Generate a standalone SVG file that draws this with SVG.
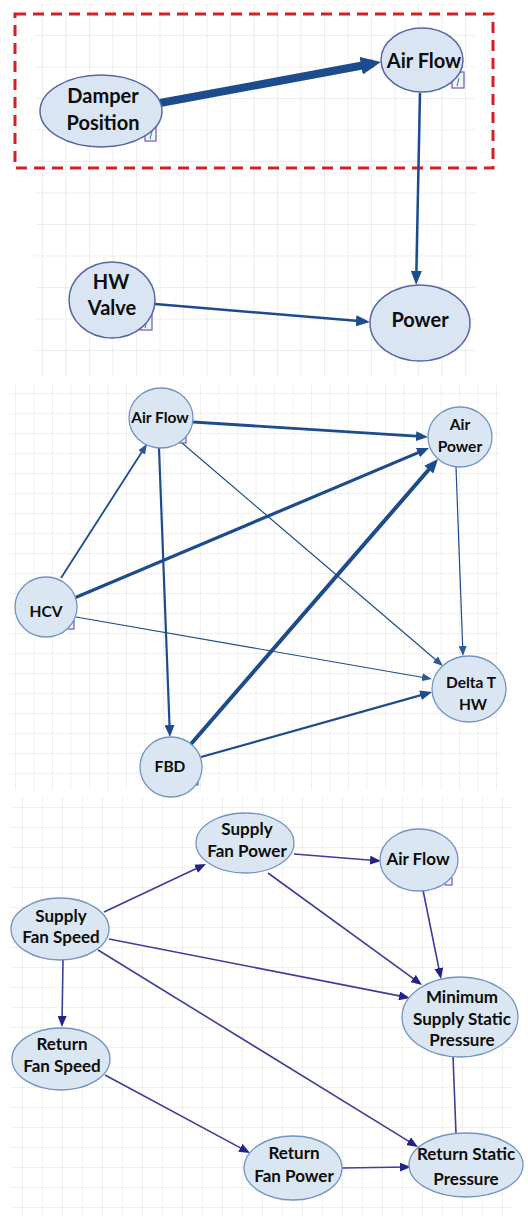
<svg xmlns="http://www.w3.org/2000/svg" width="528" height="1220" viewBox="0 0 528 1220">
<style>
.node{fill:#dbe6f3;stroke:#7393c2;stroke-width:1.3}
.nodeT{fill:#d9e5f3;stroke:#5866a8;stroke-width:1.5}
.t{font-family:Lato,"Open Sans","Liberation Sans",sans-serif;font-weight:bold;fill:#0d0d0d;text-anchor:middle}
.t1{font-size:20px}
.t2{font-size:15.5px}
.t3{font-size:17px}
.e1{fill:none;stroke:#1d4c8c}
.e3{fill:none;stroke:#3d3d9e;stroke-width:1.6}
.ico{fill:#f4f4fb;stroke:#6a58c0;stroke-width:1.2}
.tick{stroke:#3a9a8a;stroke-width:1.2}
</style>
<defs>
<pattern id="gTop" x="42" y="3.5" width="23.5" height="31.5" patternUnits="userSpaceOnUse">
<path d="M0 0V31.5M0 0H23.5" stroke="#dedede" stroke-width="1" fill="none"/>
</pattern>
<pattern id="gMid" x="15" y="393" width="18.5" height="20" patternUnits="userSpaceOnUse">
<path d="M0 0V20M0 0H18.5" stroke="#e2e2e2" stroke-width="1" fill="none"/>
</pattern>
<pattern id="gBot" x="2" y="807" width="20" height="20" patternUnits="userSpaceOnUse">
<path d="M0 0V20M0 0H20" stroke="#e2e2e2" stroke-width="1" fill="none"/>
</pattern>
<marker id="mTopBig" markerUnits="userSpaceOnUse" markerWidth="20" markerHeight="18" refX="12" refY="9" orient="auto">
<path d="M0 0L20 9L0 18z" fill="#1d4c8c"/>
</marker>
<marker id="mTop" markerUnits="userSpaceOnUse" markerWidth="14" markerHeight="11" refX="9" refY="5.5" orient="auto">
<path d="M0 0L14 5.5L0 11z" fill="#1d4c8c"/>
</marker>
<marker id="mMidBig" markerUnits="userSpaceOnUse" markerWidth="14" markerHeight="12" refX="9" refY="6" orient="auto">
<path d="M0 0L14 6L0 12z" fill="#1d4c8c"/>
</marker>
<marker id="mMid" markerUnits="userSpaceOnUse" markerWidth="12" markerHeight="10" refX="8" refY="5" orient="auto">
<path d="M0 0L12 5L0 10z" fill="#1d4c8c"/>
</marker>
<marker id="mMidS" markerUnits="userSpaceOnUse" markerWidth="10" markerHeight="8" refX="7" refY="4" orient="auto">
<path d="M0 0L10 4L0 8z" fill="#2a5a98"/>
</marker>
<marker id="mBot" markerUnits="userSpaceOnUse" markerWidth="11" markerHeight="9" refX="8" refY="4.5" orient="auto">
<path d="M0 0L11 4.5L0 9z" fill="#22228a"/>
</marker>
</defs>
<rect width="528" height="1220" fill="#ffffff"/>
<g id="grid">
<rect x="35" y="4" width="440" height="372" fill="url(#gTop)"/>
<rect x="10" y="383" width="490" height="407" fill="url(#gMid)"/>
<rect x="10" y="797" width="502" height="418" fill="url(#gBot)"/>
</g>
<rect id="highlight" x="15" y="14" width="478" height="154" fill="none" stroke="#d42020" stroke-width="3" stroke-dasharray="11 7"/>
<g id="connectors">
<path class="e1" d="M160 103L373 63.5" stroke-width="8" marker-end="url(#mTopBig)"/>
<path class="e1" d="M420 93L416.2 280" stroke-width="2.5" marker-end="url(#mTop)"/>
<path class="e1" d="M155 304L365 321.6" stroke-width="2.5" marker-end="url(#mTop)"/>
<path class="e1" d="M193 422L424 436.7" stroke-width="2.8" marker-end="url(#mMid)"/>
<path class="e1" d="M61 578L145.4 446.5" stroke-width="1.8" marker-end="url(#mMidS)"/>
<path class="e1" d="M72 599L425.3 449.6" stroke-width="3.2" marker-end="url(#mMid)"/>
<path class="e1" d="M191 744L434.7 462.8" stroke-width="4" marker-end="url(#mMidBig)"/>
<path class="e1" d="M159 448L169.8 733" stroke-width="2.2" marker-end="url(#mMid)"/>
<path class="e1" d="M182 443L440.7 664" stroke-width="1.2" stroke="#2f5f9c" marker-end="url(#mMidS)"/>
<path class="e1" d="M456 467L462.9 653" stroke-width="1.2" stroke="#2f5f9c" marker-end="url(#mMidS)"/>
<path class="e1" d="M76 617L429 678.5" stroke-width="1.2" stroke="#2f5f9c" marker-end="url(#mMidS)"/>
<path class="e1" d="M201 757L428.2 693.1" stroke-width="2.2" marker-end="url(#mMid)"/>
<path class="e3" d="M104 912L203.3 865.3" marker-end="url(#mBot)"/>
<path class="e3" d="M294 854L378 860.8" marker-end="url(#mBot)"/>
<path class="e3" d="M268 873L419.6 983.2" marker-end="url(#mBot)"/>
<path class="e3" d="M423 890L440.4 976" marker-end="url(#mBot)"/>
<path class="e3" d="M109 939L407 997.4" marker-end="url(#mBot)"/>
<path class="e3" d="M98 950L415.4 1145.4" marker-end="url(#mBot)"/>
<path class="e3" d="M63 960L62 1024" marker-end="url(#mBot)"/>
<path class="e3" d="M105 1075L247.4 1151.6" marker-end="url(#mBot)"/>
<path class="e3" d="M342 1168L408 1167" marker-end="url(#mBot)"/>
<path class="e3" d="M453 1056L456 1134"/>
</g>
<g id="n-damper">
<rect class="ico" x="145" y="126" width="11" height="15"/><path class="tick" d="M150 139L152 131"/>
<ellipse class="nodeT" cx="101" cy="111" rx="61" ry="36"/>
<text class="t t1" x="103" y="103">Damper</text>
<text class="t t1" x="103" y="130">Position</text>
</g>
<g id="n-airflow-top">
<rect class="ico" x="452" y="72" width="12" height="16"/><path class="tick" d="M457 86L459 78"/>
<ellipse class="nodeT" cx="422" cy="60" rx="41" ry="32"/>
<text class="t t1" x="424" y="68">Air Flow</text>
</g>
<g id="n-hwvalve">
<rect class="ico" x="140" y="315" width="12" height="15"/><path class="tick" d="M145 328L147 320"/>
<ellipse class="nodeT" cx="112" cy="300" rx="43" ry="38"/>
<text class="t t1" x="111" y="289">HW</text>
<text class="t t1" x="112" y="315">Valve</text>
</g>
<g id="n-power">
<ellipse class="nodeT" cx="420" cy="323" rx="50" ry="38"/>
<text class="t t1" x="420" y="327">Power</text>
</g>
<g id="n-airflow-mid">
<rect class="ico" x="180" y="436" width="6" height="7"/>
<ellipse class="node" cx="161" cy="418" rx="32" ry="30"/>
<text class="t t2" x="160" y="423">Air Flow</text>
</g>
<g id="n-airpower">
<ellipse class="node" cx="460" cy="437" rx="32" ry="30"/>
<text class="t t2" x="460" y="430">Air</text>
<text class="t t2" x="460" y="452">Power</text>
</g>
<g id="n-hcv">
<rect class="ico" x="67" y="621" width="7" height="8"/>
<ellipse class="node" cx="46" cy="607" rx="31" ry="30"/>
<text class="t t2" x="46" y="617">HCV</text>
</g>
<g id="n-deltat">
<ellipse class="node" cx="469" cy="689" rx="37" ry="33"/>
<text class="t t2" x="471" y="688">Delta T</text>
<text class="t t2" x="473" y="710">HW</text>
</g>
<g id="n-fbd">
<rect class="ico" x="192" y="778" width="6" height="7"/>
<ellipse class="node" cx="171" cy="767" rx="31" ry="30"/>
<text class="t t2" x="170" y="772">FBD</text>
</g>
<g id="n-sfp">
<ellipse class="node" cx="245" cy="843" rx="49" ry="30"/>
<text class="t t3" x="247" y="835">Supply</text>
<text class="t t3" x="247" y="857">Fan Power</text>
</g>
<g id="n-airflow-bot">
<rect class="ico" x="445" y="878" width="7" height="7"/>
<ellipse class="node" cx="419" cy="860" rx="39" ry="31"/>
<text class="t t3" x="418" y="865">Air Flow</text>
</g>
<g id="n-sfs">
<ellipse class="node" cx="60" cy="929" rx="49" ry="31"/>
<text class="t t3" x="61" y="922">Supply</text>
<text class="t t3" x="61" y="943">Fan Speed</text>
</g>
<g id="n-mssp">
<ellipse class="node" cx="460" cy="1017" rx="58" ry="40"/>
<text class="t t3" x="462" y="1003">Minimum</text>
<text class="t t3" x="462" y="1025">Supply Static</text>
<text class="t t3" x="462" y="1046">Pressure</text>
</g>
<g id="n-rfs">
<ellipse class="node" cx="61" cy="1059" rx="49" ry="31"/>
<text class="t t3" x="62" y="1050">Return</text>
<text class="t t3" x="62" y="1072">Fan Speed</text>
</g>
<g id="n-rfp">
<ellipse class="node" cx="293" cy="1168" rx="49" ry="32"/>
<text class="t t3" x="294" y="1159">Return</text>
<text class="t t3" x="294" y="1182">Fan Power</text>
</g>
<g id="n-rsp">
<ellipse class="node" cx="466" cy="1165" rx="57" ry="32"/>
<text class="t t3" x="466" y="1160">Return Static</text>
<text class="t t3" x="466" y="1185">Pressure</text>
</g>
</svg>
